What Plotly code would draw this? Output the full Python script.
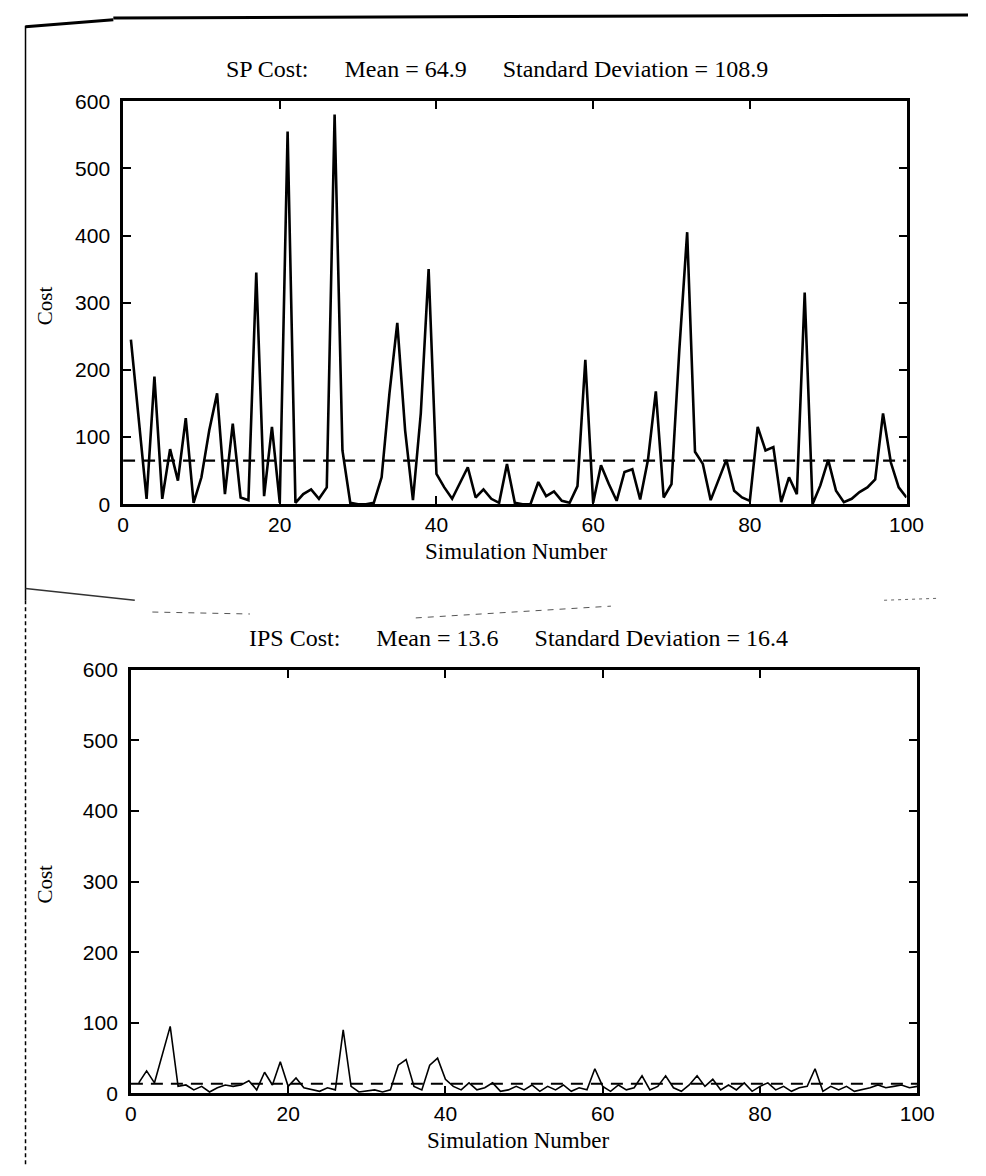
import plotly.graph_objects as go

# ---------------- data ----------------
sim_numbers = list(range(1, 101))

sp_cost = [245, 125, 8, 190, 8, 82, 35, 128, 2, 40,
           110, 165, 15, 120, 10, 6, 345, 12, 115, 2,
           555, 2, 15, 22, 8, 25, 580, 80, 2, 0,
           0, 2, 40, 165, 270, 110, 6, 135, 350, 45,
           25, 8, 32, 55, 10, 22, 8, 2, 60, 2,
           0, 0, 33, 12, 19, 5, 2, 27, 215, 2,
           58, 30, 5, 48, 52, 7, 66, 168, 10, 30,
           230, 405, 78, 60, 6, 35, 66, 20, 10, 5,
           115, 80, 85, 3, 40, 15, 315, 0, 28, 66,
           20, 3, 8, 18, 25, 37, 135, 62, 25, 10]

ips_cost = [15, 32, 15, 55, 95, 10, 12, 5, 10, 2,
            8, 12, 10, 12, 18, 5, 30, 12, 45, 10,
            22, 8, 5, 3, 8, 5, 90, 10, 2, 3,
            5, 2, 5, 40, 48, 10, 5, 40, 50, 20,
            10, 5, 15, 5, 8, 15, 3, 5, 10, 5,
            12, 3, 10, 5, 12, 3, 8, 5, 35, 10,
            3, 12, 5, 8, 25, 5, 10, 25, 8, 3,
            12, 25, 10, 20, 5, 12, 5, 15, 3, 10,
            15, 5, 10, 3, 8, 10, 35, 3, 10, 5,
            10, 3, 5, 8, 12, 8, 10, 12, 8, 10]

sp_mean, sp_std = 64.9, 108.9
ips_mean, ips_std = 13.6, 16.4

x_ticks = [0, 20, 40, 60, 80, 100]
y_ticks = [0, 100, 200, 300, 400, 500, 600]

# ---------------- figure ----------------
W, H = 986, 1176
SERIF = "Liberation Serif, Times New Roman, serif"
SANS = "Liberation Sans, Arial, sans-serif"

fig = go.Figure()

fig.add_trace(go.Scatter(x=sim_numbers, y=sp_cost, mode="lines",
                         line=dict(color="black", width=2.6),
                         xaxis="x", yaxis="y", showlegend=False))
fig.add_trace(go.Scatter(x=[0, 100], y=[sp_mean, sp_mean], mode="lines",
                         line=dict(color="black", width=2.2, dash="12px,8px"),
                         xaxis="x", yaxis="y", showlegend=False))
fig.add_trace(go.Scatter(x=sim_numbers, y=ips_cost, mode="lines",
                         line=dict(color="black", width=1.6),
                         xaxis="x2", yaxis="y2", showlegend=False))
fig.add_trace(go.Scatter(x=[0, 100], y=[ips_mean, ips_mean], mode="lines",
                         line=dict(color="black", width=2, dash="12px,8px"),
                         xaxis="x2", yaxis="y2", showlegend=False))

def px_x(p):
    return p / W

def px_y(p):
    return 1 - p / H

top_xdom = [px_x(120), px_x(923)]
bot_xdom = [px_x(128), px_x(934)]
top_dom = [px_y(502), px_y(91)]
bot_dom = [px_y(1103), px_y(671)]

axis_common = dict(showline=True, linecolor="black", linewidth=2.6, mirror="ticks",
                   ticks="inside", ticklen=8, tickwidth=2.2, tickcolor="black",
                   showgrid=False, zeroline=False,
                   tickfont=dict(family=SANS, size=21, color="black"))

fig.update_layout(
    width=W, height=H,
    margin=dict(l=0, r=0, t=0, b=0),
    paper_bgcolor="white", plot_bgcolor="white",
    xaxis=dict(domain=top_xdom, range=[0, 100], tickvals=x_ticks, anchor="y", **axis_common),
    yaxis=dict(domain=top_dom, range=[0, 600], tickvals=y_ticks, anchor="x",
               ticklabelstandoff=6, **axis_common),
    xaxis2=dict(domain=bot_xdom, range=[0, 100], tickvals=x_ticks, anchor="y2", **axis_common),
    yaxis2=dict(domain=bot_dom, range=[0, 600], tickvals=y_ticks, anchor="x2",
                ticklabelstandoff=6, **axis_common),
)

def text(x, y, s, size=24, angle=0):
    fig.add_annotation(x=px_x(x), y=px_y(y), xref="paper", yref="paper",
                       text=s, showarrow=False, textangle=angle,
                       font=dict(family=SERIF, size=size, color="black"),
                       xanchor="center", yanchor="middle")

GAP = "&nbsp;" * 6
text(503, 58, "SP Cost:" + GAP + "Mean = %.1f" % sp_mean + GAP + "Standard Deviation = %.1f" % sp_std)
text(523, 550, "Simulation Number", size=23)
text(40, 300, "Cost", size=21, angle=-90)

text(525, 638, "IPS Cost:" + GAP + "Mean = %.1f" % ips_mean + GAP + "Standard Deviation = %.1f" % ips_std)
text(525, 1151, "Simulation Number", size=23)
text(40, 890, "Cost", size=21, angle=-90)

# scanned page border and scan marks
def seg(x0, y0, x1, y1, width=3, color="black", dash="solid"):
    fig.add_shape(type="line", xref="paper", yref="paper",
                  x0=px_x(x0), y0=px_y(y0), x1=px_x(x1), y1=px_y(y1),
                  line=dict(color=color, width=width, dash=dash))

seg(20, 15, 110, 8)
seg(110, 6, 986, 3)
seg(20, 14, 20, 600, width=1.5)
seg(20, 600, 20, 1176, width=1.5, dash="4px,3px")
seg(20, 588, 132, 600, width=1.5, color="#333333")
seg(150, 612, 250, 614, width=1, color="#555555", dash="6px,6px")
seg(420, 618, 620, 606, width=1, color="#555555", dash="6px,6px")
seg(900, 600, 955, 598, width=1, color="#666666", dash="3px,4px")

fig.write_html("out.html", config={"displayModeBar": False},
               post_script="document.body.style.margin='0px';document.body.style.overflow='hidden';")
